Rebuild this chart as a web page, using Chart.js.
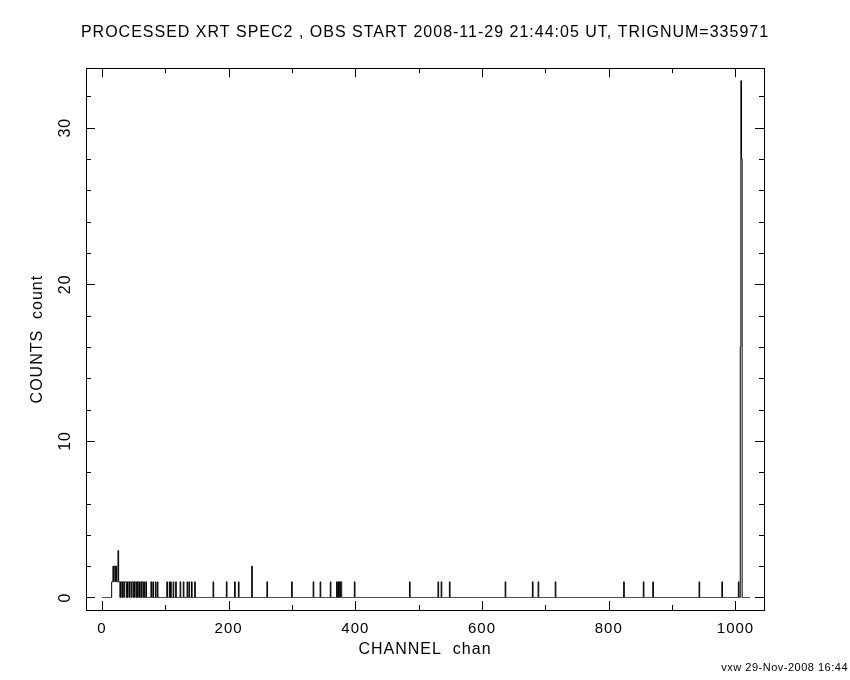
<!DOCTYPE html>
<html>
<head>
<meta charset="utf-8">
<title>XRT SPEC2</title>
<script src="https://cdn.jsdelivr.net/npm/chart.js@4.4.0/dist/chart.umd.min.js"></script>
<style>
  html, body { margin: 0; padding: 0; background: #fff; }
  #wrap { width: 850px; height: 680px; }
</style>
</head>
<body>
<div id="wrap"><canvas id="specChart" width="850" height="680"></canvas></div>
<script>
// spectrum: 1024 channels, only the non-zero bins are listed
const numChannels = 1024;
const hitChannels = [
  16, 17, 18, 19, 20, 21, 22, 23, 24, 25, 26, 27, 28, 30, 31, 33, 34, 36, 37, 38,
  40, 42, 43, 45, 46, 48, 49, 51, 53, 54, 56, 58, 59, 62, 64, 65, 67, 70,
  78, 81, 85, 88,
  103, 107, 109, 113, 117, 124, 129, 135, 138, 142, 147,
  176, 197, 210, 216, 237, 261,
  300, 334, 345, 361, 371, 373, 375, 377, 378, 399, 486,
  531, 536, 549, 637, 680, 689, 716,
  824, 855, 870, 943, 979, 1005, 1008, 1009, 1010
];
const hitCounts = [
  1, 1, 2, 1, 2, 2, 1, 2, 1, 1, 3, 1, 1, 1, 1, 1, 1, 1, 1, 1,
  1, 1, 1, 1, 1, 1, 1, 1, 1, 1, 1, 1, 1, 1, 1, 1, 1, 1,
  1, 1, 1, 1,
  1, 1, 1, 1, 1, 1, 1, 1, 1, 1, 1,
  1, 1, 1, 1, 2, 1,
  1, 1, 1, 1, 1, 1, 1, 1, 1, 1, 1,
  1, 1, 1, 1, 1, 1, 1,
  1, 1, 1, 1, 1, 1, 16, 33, 28
];
const xTickValues = [0, 200, 400, 600, 800, 1000];
const yTickValues = [0, 10, 20, 30];
const xMinorStep = 100;
const yMinorStep = 2;

const titleText = 'PROCESSED XRT SPEC2 , OBS START 2008-11-29 21:44:05 UT, TRIGNUM=335971';
const footerText = 'vxw 29-Nov-2008 16:44';
const fontFamily = '"Liberation Sans", Arial, sans-serif';

// full channel array (empty bins are zero counts)
const counts = new Array(numChannels).fill(0);
hitChannels.forEach((ch, i) => { counts[ch] = hitCounts[i]; });
const points = counts.map((c, ch) => ({ x: ch, y: c }));

// PGPLOT-like box: frame, inward ticks on all sides, rotated y labels
const pgBox = {
    id: 'pgBox',
    beforeDraw(chart) {
        // wider spacing, closer to the plotter font
        chart.ctx.letterSpacing = '1px';
    },
    afterDraw(chart) {
        const ctx = chart.ctx;
        const area = chart.chartArea;
        const xs = chart.scales.x;
        const ys = chart.scales.y;
        const majorLen = 9, minorLen = 5;

        ctx.save();
        ctx.strokeStyle = '#000';
        ctx.lineWidth = 1;
        ctx.strokeRect(Math.round(area.left) + 0.5, Math.round(area.top) + 0.5,
            Math.round(area.right - area.left), Math.round(area.bottom - area.top));

        ctx.beginPath();
        // x ticks (bottom and top)
        for (let v = Math.ceil(xs.min / xMinorStep) * xMinorStep; v <= xs.max; v += xMinorStep) {
            const px = Math.round(xs.getPixelForValue(v)) + 0.5;
            const len = xTickValues.includes(v) ? majorLen : minorLen;
            ctx.moveTo(px, area.bottom); ctx.lineTo(px, area.bottom - len);
            ctx.moveTo(px, area.top); ctx.lineTo(px, area.top + len);
        }
        // y ticks (left and right)
        for (let v = Math.ceil(ys.min / yMinorStep) * yMinorStep; v <= ys.max; v += yMinorStep) {
            const py = Math.round(ys.getPixelForValue(v)) + 0.5;
            const len = yTickValues.includes(v) ? majorLen : minorLen;
            ctx.moveTo(area.left, py); ctx.lineTo(area.left + len, py);
            ctx.moveTo(area.right, py); ctx.lineTo(area.right - len, py);
        }
        ctx.stroke();

        // y tick labels, rotated like the original
        ctx.fillStyle = '#000';
        ctx.font = '16px ' + fontFamily;
        ctx.textAlign = 'center';
        ctx.textBaseline = 'middle';
        yTickValues.forEach(v => {
            ctx.save();
            ctx.translate(66, ys.getPixelForValue(v));
            ctx.rotate(-Math.PI / 2);
            ctx.fillText(String(v), 0, 0);
            ctx.restore();
        });

        // plot stamp bottom right
        ctx.font = '11px ' + fontFamily;
        ctx.letterSpacing = '0.5px';
        ctx.textAlign = 'right';
        ctx.textBaseline = 'alphabetic';
        ctx.fillText(footerText, 848, 671);
        ctx.restore();
    }
};

const specCtx = document.getElementById('specChart').getContext('2d');
const specChart = new Chart(specCtx, {
    type: 'line',
    data: {
        datasets: [{
            label: 'COUNTS',
            data: points,
            borderColor: '#000',
            borderWidth: 1,
            pointRadius: 0,
            stepped: 'middle',
            fill: false
        }]
    },
    options: {
        responsive: false,
        animation: false,
        layout: { padding: 0 },
        plugins: {
            legend: { display: false },
            tooltip: { enabled: false },
            title: {
                display: true,
                text: titleText,
                color: '#000',
                font: { family: fontFamily, size: 16, weight: 'normal' },
                padding: { top: 23, bottom: 26 }
            }
        },
        scales: {
            x: {
                type: 'linear',
                min: -25,
                max: 1045,
                grid: { display: false, drawTicks: false },
                border: { display: false },
                afterBuildTicks: scale => {
                    scale.ticks = xTickValues.map(v => ({ value: v }));
                },
                afterFit: scale => { scale.height = 70; },
                ticks: {
                    color: '#000',
                    font: { family: fontFamily, size: 15 },
                    padding: 10,
                    maxRotation: 0,
                    callback: v => String(v)
                },
                title: {
                    display: true,
                    text: 'CHANNEL  chan',
                    color: '#000',
                    font: { family: fontFamily, size: 16 },
                    padding: { top: 0, bottom: 21 }
                }
            },
            y: {
                type: 'linear',
                min: -0.8,
                max: 33.8,
                grid: { display: false, drawTicks: false },
                border: { display: false },
                ticks: { display: false },
                afterFit: scale => { scale.width = 86; },
                title: {
                    display: true,
                    text: 'COUNTS  count',
                    color: '#000',
                    font: { family: fontFamily, size: 16 },
                    padding: { top: 28, bottom: 0 }
                }
            },
            // empty right margin so the title centres on the page
            yRight: {
                type: 'linear',
                position: 'right',
                grid: { display: false, drawTicks: false },
                border: { display: false },
                ticks: { display: false },
                afterFit: scale => { scale.width = 86; }
            }
        }
    },
    plugins: [pgBox]
});
</script>
</body>
</html>
